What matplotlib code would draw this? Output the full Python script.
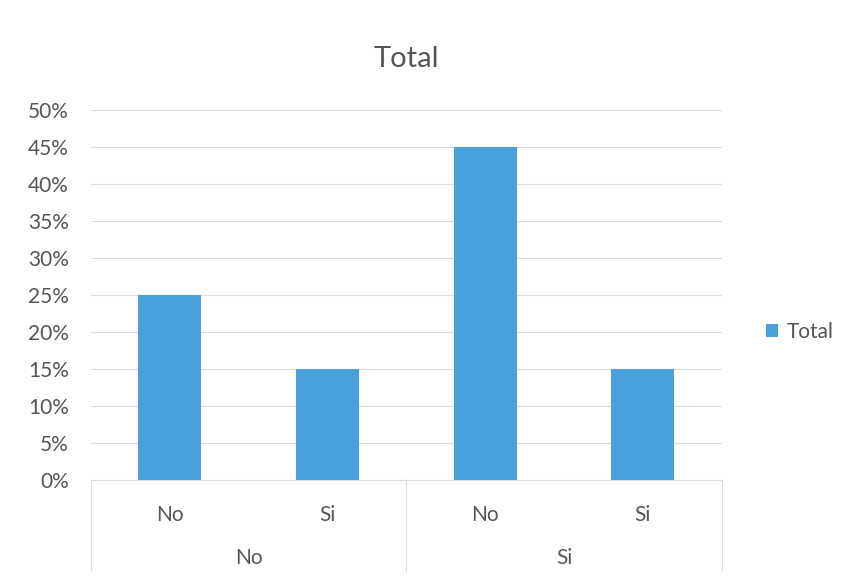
import matplotlib.pyplot as plt
import numpy as np

# two-level category axis
outer_labels = ['No', 'Si']
inner_labels = ['No', 'Si', 'No', 'Si']
totals = [0.25, 0.15, 0.45, 0.15]
y_ticks = [0, 0.05, 0.10, 0.15, 0.20, 0.25, 0.30, 0.35, 0.40, 0.45, 0.50]

plt.rcParams['font.family'] = ['Lato', 'DejaVu Sans']
text_color = '#555555'
bar_color = '#4aa0da'

fig = plt.figure(figsize=(8.5, 5.78), dpi=100)
ax = fig.add_axes([0.107, 0.1696, 0.742, 0.6401])

x = np.arange(len(totals))
ax.bar(x, totals, width=0.4, color=bar_color, label='Total', zorder=3)

ax.set_xlim(-0.5, len(totals) - 0.5)
ax.set_ylim(0, 0.5)
ax.set_yticks(y_ticks)
ax.set_yticklabels([f'{int(round(v * 100))}%' for v in y_ticks],
                   fontsize=15, color=text_color)
ax.tick_params(axis='y', length=0, pad=16)
ax.grid(axis='y', color='#dcdcdc', lw=0.8, zorder=0)
ax.set_axisbelow(True)

ax.set_xticks(x)
ax.set_xticklabels(inner_labels, fontsize=15, color=text_color)
ax.tick_params(axis='x', length=0, pad=18)

for s in ['top', 'right', 'left']:
    ax.spines[s].set_visible(False)
ax.spines['bottom'].set_color('#dcdcdc')

# outer group labels and separators
trans = ax.get_xaxis_transform()
n_inner = len(inner_labels) // len(outer_labels)
for i, lab in enumerate(outer_labels):
    center = i * n_inner + (n_inner - 1) / 2
    ax.text(center, -0.21, lab, transform=trans, ha='center', va='center',
            fontsize=15, color=text_color)
for b in range(len(outer_labels) + 1):
    xb = b * n_inner - 0.5
    ax.plot([xb, xb], [0, -0.245], transform=trans, color='#dcdcdc',
            lw=0.8, clip_on=False)

ax.set_title('Total', fontsize=21, color=text_color, pad=31)

ax.legend(loc='center left', bbox_to_anchor=(1.04, 0.40), frameon=False,
          fontsize=15, labelcolor=text_color, handlelength=0.6,
          handleheight=0.6, handletextpad=0.4)

fig.savefig('out.png', dpi=100, facecolor='white')
